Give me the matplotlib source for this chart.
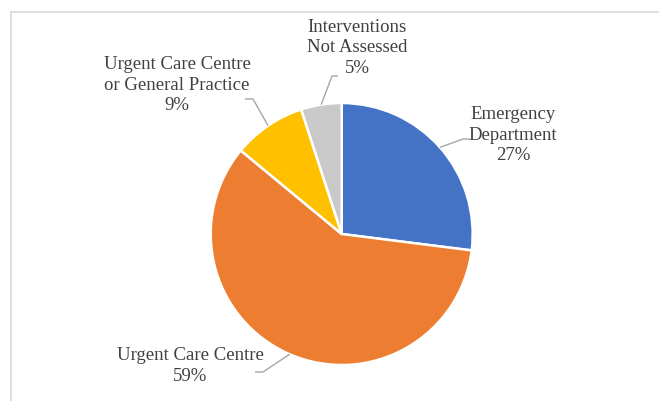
import numpy as np
import matplotlib
matplotlib.use("Agg")
import matplotlib.pyplot as plt
from matplotlib.lines import Line2D

# data
categories = ["Emergency\nDepartment", "Urgent Care Centre",
              "Urgent Care Centre\nor General Practice", "Interventions\nNot Assessed"]
shares = [27, 59, 9, 5]
colors = ["#4472C4", "#ED7D31", "#FFC000", "#C9C9C9"]

# label layout in pixels (x right, y down): text centre, leader end, elbow
label_pos = [(513, 135), (190, 366), (177, 85), (357, 48)]
leader_end = [(470, 139), (255, 372), (245, 99), (338, 76)]
leader_elbow = [(463, 139), (263, 372), (253, 99), (332, 76)]

W, H = 659, 401
plt.rcParams['font.family'] = ['Liberation Serif', 'DejaVu Serif']

fig = plt.figure(figsize=(W / 100, H / 100), dpi=100)
ax = fig.add_axes([0, 0, 1, 1])

cx, cy, r = 341.7, H - 234, 131
wedges, _ = ax.pie(shares, colors=colors, startangle=90, counterclock=False,
                   center=(cx, cy), radius=r, frame=True,
                   wedgeprops=dict(edgecolor='white', linewidth=1.8))
ax.set_xlim(0, W)
ax.set_ylim(0, H)
ax.set_aspect('equal')
ax.axis('off')

for w, name, share, (tx, ty), (ex, ey), (bx, by) in zip(
        wedges, categories, shares, label_pos, leader_end, leader_elbow):
    mid = np.deg2rad((w.theta1 + w.theta2) / 2)
    px, py = cx + r * np.cos(mid), cy + r * np.sin(mid)
    ax.plot([px, bx, ex], [py, H - by, H - ey], color='#A6A6A6', lw=1.0,
            solid_capstyle='butt')
    ax.text(tx, H - ty, f"{name}\n{share}%", ha='center', va='center',
            fontsize=13.5, color='#404040', linespacing=1.27)

# chart area border (only top and left visible)
fig.add_artist(Line2D([10.5 / W, 1], [1 - 11.7 / H, 1 - 11.7 / H],
                      transform=fig.transFigure, color='#D9D9D9', lw=1.2))
fig.add_artist(Line2D([10.5 / W, 10.5 / W], [0, 1 - 11.7 / H],
                      transform=fig.transFigure, color='#D9D9D9', lw=1.2))

fig.savefig("out.png", dpi=100)
